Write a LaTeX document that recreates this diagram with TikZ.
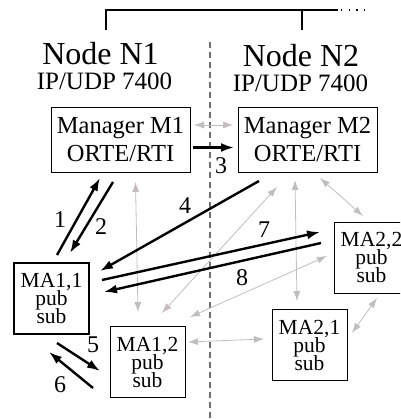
\documentclass[tikz,border=0pt]{standalone}
\usepackage{fontspec}
\setmainfont{Liberation Serif}
\usetikzlibrary{arrows.meta}
\definecolor{greyc}{RGB}{196,189,189}
\definecolor{dashc}{RGB}{110,110,110}
\begin{document}
\begin{tikzpicture}[x=1pt,y=-1pt,
  box/.style={draw, line width=0.9pt, inner sep=0pt, align=center,
    execute at begin node={\lineskiplimit=-30pt}},
  mgr/.style={box, minimum width=139pt, minimum height=65pt,
    font=\fontsize{24.5}{28}\selectfont},
  ma/.style={box, minimum width=75pt, minimum height=71pt,
    font=\fontsize{21.5}{18}\selectfont},
  title/.style={anchor=base, inner sep=0pt, font=\fontsize{32}{32}\selectfont},
  sub/.style={anchor=base, inner sep=0pt, font=\fontsize{25}{25}\selectfont},
  num/.style={anchor=base, inner sep=0pt, font=\fontsize{24}{24}\selectfont},
  blk/.style={line width=2.4pt, -{Latex[length=13pt,width=9pt]}},
  gry/.style={draw=greyc, line width=0.8pt,
    {Latex[length=10pt,width=7pt]}-{Latex[length=10pt,width=7pt]}},
]
\useasboundingbox (0,0) rectangle (400,420);
\clip (0,0) rectangle (400,420);

% top bracket
\coordinate (b1) at (106,30);
\coordinate (b1t) at (106,10);
\coordinate (b2) at (302,30);
\coordinate (b2t) at (302,10);
\coordinate (bend) at (338,10);
\coordinate (dots) at (367,10);
\draw[line width=1.3pt] (b1) -- (b1t) -- (bend);
\draw[line width=1.3pt] (b2t) -- (b2);
\draw[line width=1.2pt, dash pattern=on 1.2pt off 6.5pt] (bend) ++(3,0) -- (dots);

% dashed separator
\coordinate (d1) at (210,42);
\coordinate (d2) at (210,420);
\draw[dashc, line width=1.1pt, dash pattern=on 6pt off 4pt] (d1) -- (d2);

% titles
\node[title] (n1) at (100.5,65) {Node N1};
\node[sub] (u1) at (104.5,89) {IP/UDP 7400};
\node[title] (n2) at (301,66.5) {Node N2};
\node[sub] (u2) at (300.5,91) {IP/UDP 7400};

% boxes
\node[mgr] (m1) at (120.5,139.5) {Manager M1\\ORTE/RTI};
\node[mgr] (m2) at (307.5,139.5) {Manager M2\\ORTE/RTI};
\node[ma, line width=2.4pt] (a11) at (51.5,298.5) {MA1,1\\pub\\sub};
\node[ma] (a12) at (147.5,362) {MA1,2\\pub\\sub};
\node[ma] (a21) at (309.5,345) {MA2,1\\pub\\sub};
\node[ma] (a22) at (371.5,257.5) {MA2,2\\pub\\sub};

% grey arrows
\coordinate (g1a) at (194,125); \coordinate (g1b) at (233,125);
\coordinate (g2a) at (135.5,182); \coordinate (g2b) at (138,312);
\coordinate (g3a) at (277,187); \coordinate (g3b) at (162,313);
\coordinate (g4a) at (295,180); \coordinate (g4b) at (297,301);
\coordinate (g5a) at (320,178); \coordinate (g5b) at (363,216);
\coordinate (g6a) at (190,317); \coordinate (g6b) at (327,256);
\coordinate (g7a) at (188,342); \coordinate (g7b) at (264,339);
\coordinate (g8a) at (352,333); \coordinate (g8b) at (377,298);
\foreach \g in {1,...,8} \draw[gry] (g\g a) -- (g\g b);

% black arrows
\coordinate (k1a) at (57,255); \coordinate (k1b) at (100,178);
\coordinate (k2a) at (113,182); \coordinate (k2b) at (70,253);
\coordinate (k3a) at (193,147.5); \coordinate (k3b) at (234,147.5);
\coordinate (k4a) at (259,181); \coordinate (k4b) at (100,271);
\coordinate (k7a) at (102,280); \coordinate (k7b) at (320,232);
\coordinate (k8a) at (321,243); \coordinate (k8b) at (104,292);
\coordinate (k5a) at (57,343); \coordinate (k5b) at (100,371);
\coordinate (k6a) at (93,388); \coordinate (k6b) at (49,352);
\foreach \k in {1,2,3,4,5,6,7,8} \draw[blk] (k\k a) -- (k\k b);

% numbers
\node[num] (l1) at (60,227) {1};
\node[num] (l2) at (101,234) {2};
\node[num] (l3) at (221,173) {3};
\node[num] (l4) at (185,213) {4};
\node[num] (l7) at (264,237) {7};
\node[num] (l8) at (242,285) {8};
\node[num] (l5) at (93,352) {5};
\node[num] (l6) at (60,392) {6};
\end{tikzpicture}
\end{document}
